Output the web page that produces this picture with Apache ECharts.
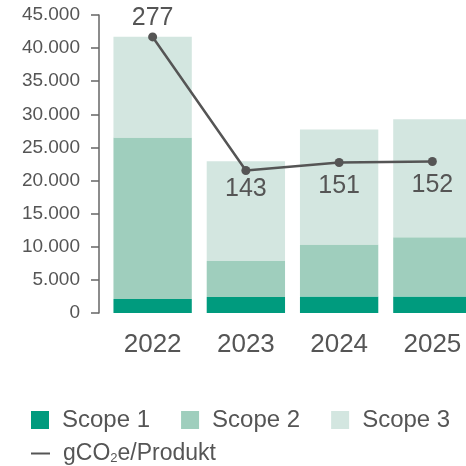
<!DOCTYPE html>
<html>
<head>
<meta charset="utf-8">
<script src="https://cdn.jsdelivr.net/npm/echarts@6/dist/echarts.min.js"></script>
<style>
  html, body { margin: 0; padding: 0; background: #fff; }
  #chart { width: 466px; height: 466px; }
</style>
</head>
<body>
<div id="chart"></div>
<script>
// data
const years = ['2022', '2023', '2024', '2025']
const scope1 = [2100, 2400, 2500, 2500]
const scope2 = [24400, 5450, 7850, 8950]
const scope3 = [15200, 15050, 17350, 17800]
const perProduct = [277, 143, 151, 152]
const yTicks = [0, 5000, 10000, 15000, 20000, 25000, 30000, 35000, 40000, 45000]

const font = '"Liberation Sans", Arial, sans-serif'
const textColor = '#555'

const chart = echarts.init(document.getElementById('chart'))

const barSeries = (name, data, color) => ({
  name: name,
  type: 'bar',
  stack: 'total',
  barCategoryGap: '16%',
  itemStyle: { color: color },
  emphasis: { disabled: true },
  data: data
})

// label placement per point (first above, the rest below)
const labelPos = [
  { position: 'top', distance: 2 },
  { position: 'bottom', distance: 2 },
  { position: 'bottom', distance: 7 },
  { position: 'bottom', distance: 7 }
]

const option = {
  animation: false,
  textStyle: { fontFamily: font },
  grid: {
    left: 106,
    width: 373,
    top: 15,
    bottom: 153,
    containLabel: false,
    outerBoundsMode: 'none'
  },
  legend: [{
    data: ['Scope 1', 'Scope 2', 'Scope 3'],
    left: 31,
    top: 408,
    padding: 0,
    icon: 'rect',
    itemWidth: 18,
    itemHeight: 18,
    itemGap: 31,
    textStyle: { color: textColor, fontSize: 24, fontFamily: font, padding: [0, 0, 0, 8] }
  }, {
    data: [{ name: 'gCO2e/Produkt', icon: 'rect' }],
    left: 31,
    top: 442,
    padding: 0,
    itemWidth: 19,
    itemHeight: 2,
    formatter: () => '{a|gCO}{s|2}{a|e/Produkt}',
    textStyle: {
      color: textColor,
      padding: [0, 0, 0, 8],
      rich: {
        a: { fontSize: 23, color: textColor, fontFamily: font },
        s: { fontSize: 13, color: textColor, fontFamily: font, padding: [9, 0, 0, 0] }
      }
    }
  }],
  xAxis: {
    type: 'category',
    data: years,
    axisLine: { show: false },
    axisTick: { show: false },
    axisLabel: { color: textColor, fontSize: 26, margin: 19, fontFamily: font }
  },
  yAxis: [{
    type: 'value',
    min: yTicks[0],
    max: yTicks[yTicks.length - 1],
    interval: 5000,
    offset: 7,
    axisLine: { show: true, lineStyle: { color: '#666', width: 1.5 } },
    axisTick: { show: true, length: 8, lineStyle: { color: '#666', width: 1.5 } },
    splitLine: { show: false },
    axisLabel: {
      color: textColor,
      fontSize: 19,
      margin: 19,
      fontFamily: font,
      formatter: v => String(v).replace(/\B(?=(\d{3})+(?!\d))/g, '.')
    }
  }, {
    type: 'value',
    min: 0,
    max: 299,
    show: false
  }],
  series: [
    barSeries('Scope 1', scope1, '#009b7e'),
    barSeries('Scope 2', scope2, '#9fcebd'),
    barSeries('Scope 3', scope3, '#d3e6e0'),
    {
      name: 'gCO2e/Produkt',
      type: 'line',
      yAxisIndex: 1,
      symbol: 'circle',
      symbolSize: 9,
      itemStyle: { color: '#555' },
      lineStyle: { color: '#555', width: 2.5 },
      emphasis: { disabled: true },
      label: {
        show: true,
        color: textColor,
        fontSize: 25,
        fontFamily: font
      },
      data: perProduct.map((v, i) => ({ value: v, label: labelPos[i] }))
    }
  ]
}

chart.setOption(option)
</script>
</body>
</html>
